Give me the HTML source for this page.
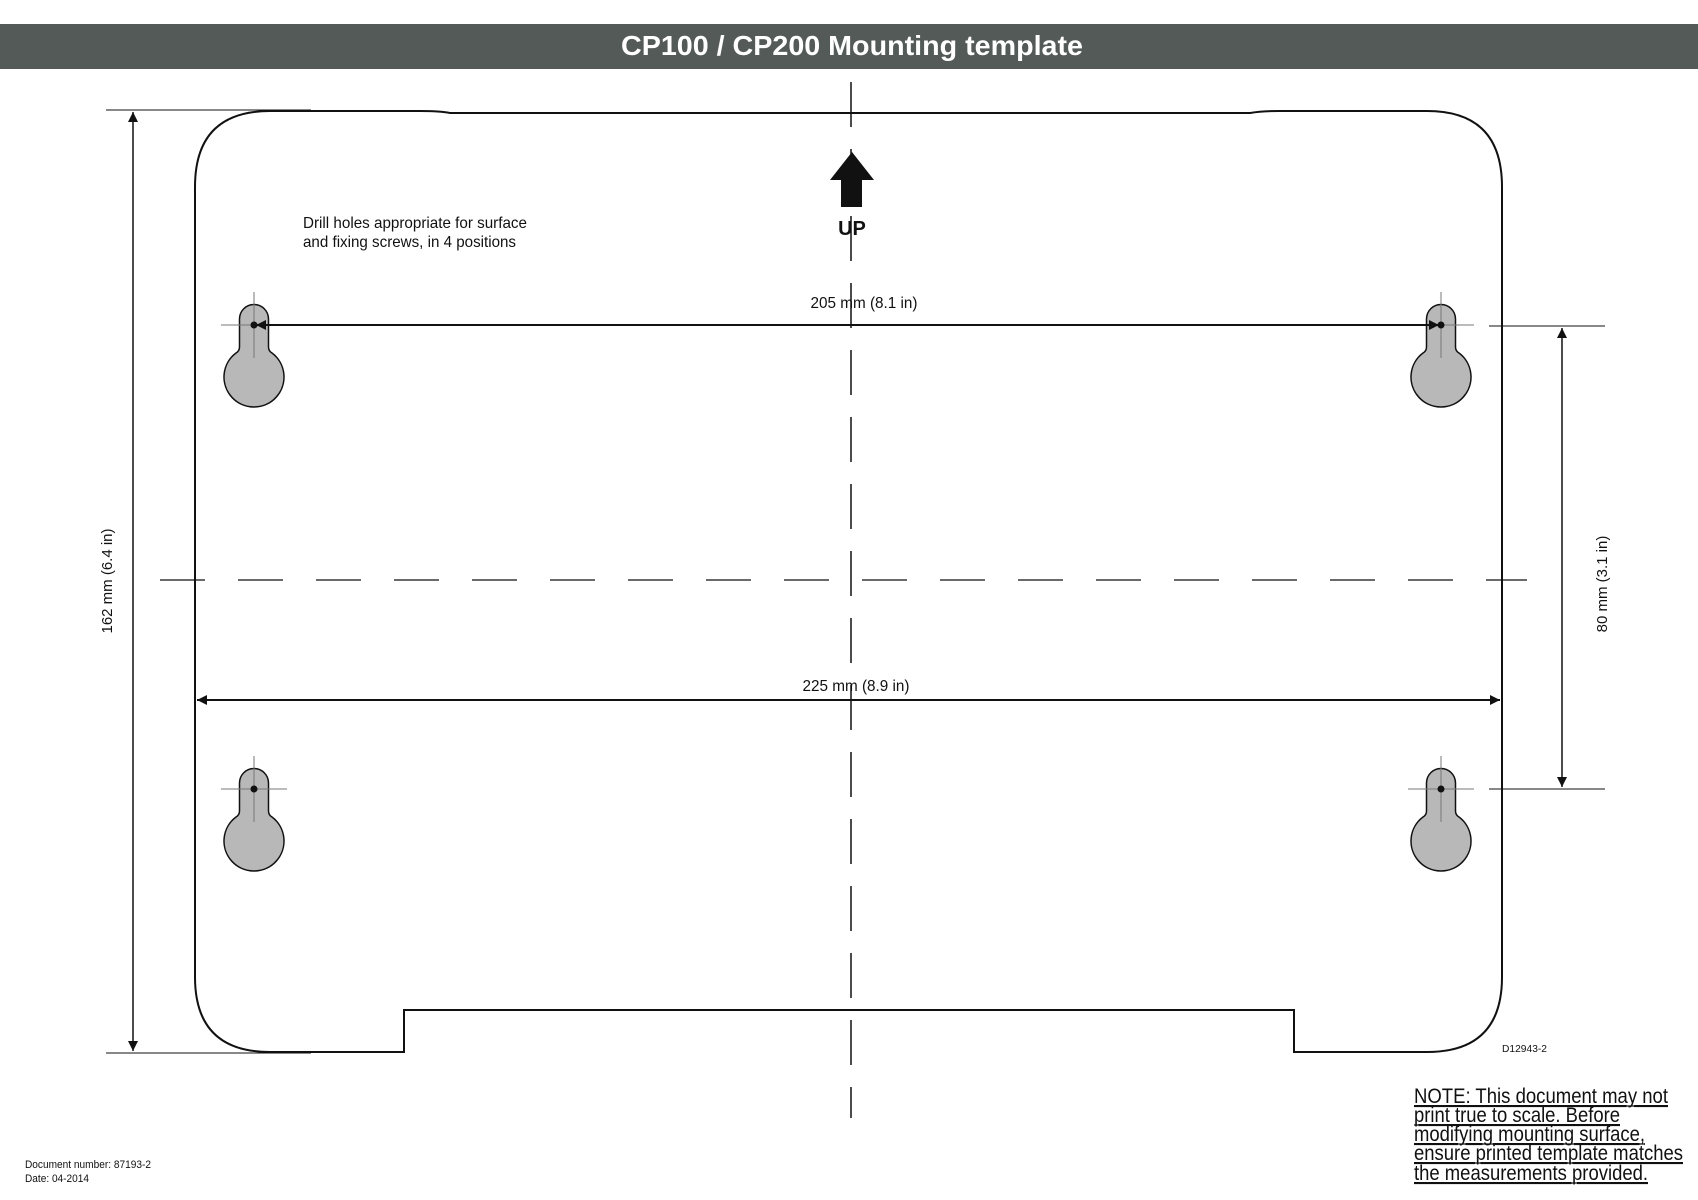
<!DOCTYPE html>
<html><head><meta charset="utf-8"><style>
html,body{margin:0;padding:0;background:#fff;}
svg{display:block;font-family:"Liberation Sans",Arial,sans-serif;}
</style></head><body>
<svg width="1698" height="1200" viewBox="0 0 1698 1200" xmlns="http://www.w3.org/2000/svg">
<defs>
<marker id="ah" viewBox="0 0 10 10" refX="10" refY="5" markerWidth="14" markerHeight="10" markerUnits="userSpaceOnUse" orient="auto-start-reverse">
<path d="M0,0 L10,5 L0,10 z" fill="#111"/></marker>
</defs>
<rect x="0" y="24" width="1698" height="45" fill="#545a58"/>
<text x="852" y="55" text-anchor="middle" font-size="28" font-weight="bold" fill="#fff" textLength="462" lengthAdjust="spacingAndGlyphs">CP100 / CP200 Mounting template</text>

<path d="M404,1052 L270,1052 Q195,1052 195,977 L195,187 Q195,111 270,111 L420,111 Q440,111 450,113 L1250,113 Q1262,111 1280,111 L1427,111 Q1502,111 1502,187 L1502,977 Q1502,1052 1427,1052 L1294,1052 L1294,1010 L404,1010 Z" fill="none" stroke="#111" stroke-width="2"/>

<line x1="851" y1="82" x2="851" y2="1118" stroke="#111" stroke-width="1.5" stroke-dasharray="45,22"/>
<line x1="160" y1="580" x2="1527" y2="580" stroke="#111" stroke-width="1.2" stroke-dasharray="45,33"/>

<line x1="106" y1="110" x2="311" y2="110" stroke="#111" stroke-width="1"/>
<line x1="106" y1="1053" x2="311" y2="1053" stroke="#111" stroke-width="1"/>
<line x1="133" y1="112" x2="133" y2="1051" stroke="#111" stroke-width="1.5" marker-start="url(#ah)" marker-end="url(#ah)"/>
<text transform="translate(112,581) rotate(-90)" text-anchor="middle" font-size="15" fill="#111">162 mm (6.4 in)</text>

<line x1="1489" y1="326" x2="1605" y2="326" stroke="#111" stroke-width="1"/>
<line x1="1489" y1="789" x2="1605" y2="789" stroke="#111" stroke-width="1"/>
<line x1="1562" y1="328" x2="1562" y2="787" stroke="#111" stroke-width="1.5" marker-start="url(#ah)" marker-end="url(#ah)"/>
<text transform="translate(1607,584) rotate(-90)" text-anchor="middle" font-size="15" fill="#111">80 mm (3.1 in)</text>

<path d="M852,152 L874,180 L862,180 L862,207 L841,207 L841,180 L830,180 Z" fill="#111"/>
<text x="852" y="235" text-anchor="middle" font-size="20" font-weight="bold" fill="#111">UP</text>

<text font-size="16" fill="#111"><tspan x="303" y="228" textLength="224" lengthAdjust="spacingAndGlyphs">Drill holes appropriate for surface</tspan><tspan x="303" y="247" textLength="213" lengthAdjust="spacingAndGlyphs">and fixing screws, in 4 positions</tspan></text>

<g fill="#b8b8b8" stroke="#111" stroke-width="1.5">
<path d="M-14.5,0 A14.5,14.5 0 0 1 14.5,0 L14.5,28 Q14.5,32 18,34 A30,30 0 1 1 -18,34 Q-14.5,32 -14.5,28 Z" transform="translate(254,319)"/>
<path d="M-14.5,0 A14.5,14.5 0 0 1 14.5,0 L14.5,28 Q14.5,32 18,34 A30,30 0 1 1 -18,34 Q-14.5,32 -14.5,28 Z" transform="translate(1441,319)"/>
<path d="M-14.5,0 A14.5,14.5 0 0 1 14.5,0 L14.5,28 Q14.5,32 18,34 A30,30 0 1 1 -18,34 Q-14.5,32 -14.5,28 Z" transform="translate(254,783)"/>
<path d="M-14.5,0 A14.5,14.5 0 0 1 14.5,0 L14.5,28 Q14.5,32 18,34 A30,30 0 1 1 -18,34 Q-14.5,32 -14.5,28 Z" transform="translate(1441,783)"/>
</g>
<g stroke="#777" stroke-width="1">
<line x1="221" y1="325" x2="287" y2="325"/><line x1="254" y1="292" x2="254" y2="358"/>
<line x1="1408" y1="325" x2="1474" y2="325"/><line x1="1441" y1="292" x2="1441" y2="358"/>
<line x1="221" y1="789" x2="287" y2="789"/><line x1="254" y1="756" x2="254" y2="822"/>
<line x1="1408" y1="789" x2="1474" y2="789"/><line x1="1441" y1="756" x2="1441" y2="822"/>
</g>
<g fill="#111"><circle cx="254" cy="325" r="3.5"/><circle cx="1441" cy="325" r="3.5"/><circle cx="254" cy="789" r="3.5"/><circle cx="1441" cy="789" r="3.5"/></g>

<line x1="256" y1="325" x2="1439" y2="325" stroke="#111" stroke-width="2" marker-start="url(#ah)" marker-end="url(#ah)"/>
<text x="864" y="308" text-anchor="middle" font-size="16" fill="#111" textLength="107" lengthAdjust="spacingAndGlyphs">205 mm (8.1 in)</text>
<line x1="197" y1="700" x2="1500" y2="700" stroke="#111" stroke-width="2" marker-start="url(#ah)" marker-end="url(#ah)"/>
<text x="856" y="691" text-anchor="middle" font-size="16" fill="#111" textLength="107" lengthAdjust="spacingAndGlyphs">225 mm (8.9 in)</text>

<text x="1502" y="1052" font-size="10" fill="#111" textLength="45" lengthAdjust="spacingAndGlyphs">D12943-2</text>

<g font-size="21" fill="#111" text-decoration="underline">
<text x="1414" y="1103" textLength="254" lengthAdjust="spacingAndGlyphs">NOTE: This document may not</text>
<text x="1414" y="1122" textLength="206" lengthAdjust="spacingAndGlyphs">print true to scale. Before</text>
<text x="1414" y="1141" textLength="231" lengthAdjust="spacingAndGlyphs">modifying mounting surface,</text>
<text x="1414" y="1160" textLength="269" lengthAdjust="spacingAndGlyphs">ensure printed template matches</text>
<text x="1414" y="1180" textLength="234" lengthAdjust="spacingAndGlyphs">the measurements provided.</text>
</g>
<g stroke="#111" stroke-width="1.3">
<line x1="1414" y1="1106" x2="1668" y2="1106"/><line x1="1414" y1="1125" x2="1620" y2="1125"/>
<line x1="1414" y1="1144" x2="1645" y2="1144"/><line x1="1414" y1="1163" x2="1683" y2="1163"/>
<line x1="1414" y1="1183" x2="1648" y2="1183"/>
</g>

<text x="25" y="1168" font-size="11" fill="#111" textLength="126" lengthAdjust="spacingAndGlyphs">Document number: 87193-2</text>
<text x="25" y="1182" font-size="11" fill="#111" textLength="64" lengthAdjust="spacingAndGlyphs">Date: 04-2014</text>
</svg>
</body></html>
